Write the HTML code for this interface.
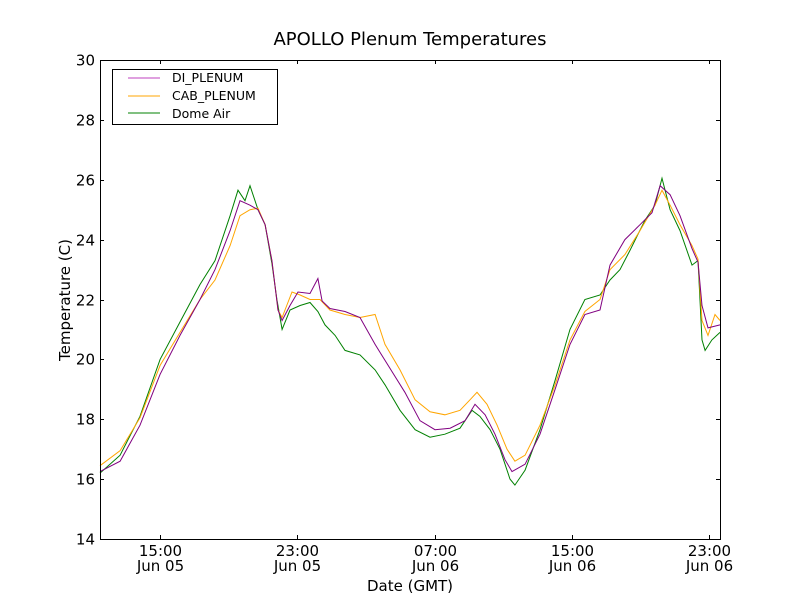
<!DOCTYPE html>
<html><head><meta charset="utf-8">
<style>
body{margin:0;background:#fff;}
svg{display:block;font-family:"DejaVu Sans","Liberation Sans",sans-serif;}
</style></head>
<body>
<svg id="chart" width="800" height="600" viewBox="0 0 800 600">
<rect width="800" height="600" fill="#fff"/>
<text x="410" y="45" text-anchor="middle" font-size="18">APOLLO Plenum Temperatures</text>
<text x="410" y="591" text-anchor="middle" font-size="15">Date (GMT)</text>
<text x="0" y="0" transform="translate(70,300) rotate(-90)" text-anchor="middle" font-size="15">Temperature (C)</text>
<g id="plot"></g>
<g id="axes"></g>
<g>
<rect x="112.5" y="69.5" width="165" height="55" fill="#fff" stroke="#000" stroke-width="1"/>
<line x1="128" y1="78" x2="160" y2="78" stroke="#bf40bf"/>
<text x="172" y="82" font-size="12.5">DI_PLENUM</text>
<line x1="128" y1="96" x2="160" y2="96" stroke="#ffa500"/>
<text x="172" y="100" font-size="12.5">CAB_PLENUM</text>
<line x1="128" y1="113" x2="160" y2="113" stroke="#008000"/>
<text x="172" y="118" font-size="12.5">Dome Air</text>
</g>
</svg>
<script>
const yTicks=[14,16,18,20,22,24,26,28,30];
const xTickHours=[15,23,31,39,47];
const xTickTimes=["15:00","23:00","07:00","15:00","23:00"];
const xTickDates=["Jun 05","Jun 05","Jun 06","Jun 06","Jun 06"];
const diTimes=[11.5,12.67,13.83,15.0,16.16,17.33,18.2,19.08,19.66,20.24,20.71,21.12,21.52,21.87,22.11,22.57,23.04,23.74,24.2,24.44,24.9,25.78,26.65,27.53,28.4,29.27,30.15,31.02,31.9,32.77,33.35,33.94,34.52,35.1,35.51,36.27,37.14,38.02,38.89,39.76,40.64,41.22,42.09,42.97,43.67,44.14,44.72,45.3,46.0,46.35,46.58,46.93,47.63];
const diValues=[16.25,16.6,17.8,19.5,20.8,22,23,24.3,25.3,25.15,25,24.5,23.3,21.65,21.3,21.8,22.25,22.2,22.7,21.95,21.7,21.6,21.4,20.5,19.7,18.9,17.95,17.65,17.7,17.95,18.5,18.15,17.5,16.65,16.25,16.5,17.5,19,20.5,21.5,21.65,23.15,24,24.5,24.9,25.8,25.5,24.8,23.7,23.25,21.8,21.05,21.15];
const cabTimes=[11.5,12.67,13.83,15.0,16.16,17.33,18.2,19.08,19.66,20.24,20.71,21.12,21.52,21.87,22.11,22.69,23.16,23.74,24.32,24.9,25.78,26.65,27.53,28.11,28.98,29.86,30.73,31.6,32.48,33.06,33.47,34.05,34.64,35.22,35.68,36.27,37.14,38.02,38.89,39.76,40.64,41.22,42.09,42.97,43.84,44.25,44.72,45.3,46.0,46.35,46.58,46.93,47.34,47.63];
const cabValues=[16.45,16.95,18.05,19.8,20.9,22,22.65,23.8,24.8,25,25.05,24.5,23.3,21.65,21.4,22.25,22.15,22,22,21.65,21.5,21.4,21.5,20.5,19.65,18.65,18.25,18.15,18.3,18.65,18.9,18.5,17.8,17,16.6,16.8,17.8,19.15,20.65,21.6,22,23,23.5,24.3,25.15,25.65,25.15,24.5,23.8,23.35,21.3,20.8,21.5,21.3];
const domeTimes=[11.5,12.67,13.83,15.0,16.16,17.33,18.2,19.08,19.54,19.95,20.24,20.71,21.12,21.52,21.81,22.11,22.57,23.16,23.74,24.2,24.61,25.2,25.78,26.65,27.53,28.11,28.98,29.86,30.73,31.6,32.48,33.18,33.64,34.23,34.81,35.39,35.68,36.27,37.14,38.02,38.89,39.76,40.64,41.22,41.8,42.39,43.26,43.84,44.25,44.72,45.3,46.0,46.35,46.58,46.76,47.16,47.63];
const domeValues=[16.2,16.8,18.1,20.0,21.25,22.5,23.3,24.8,25.65,25.3,25.8,25.0,24.5,23.2,22,21,21.65,21.8,21.9,21.6,21.15,20.8,20.3,20.15,19.65,19.15,18.3,17.65,17.4,17.5,17.7,18.3,18.1,17.65,17,16,15.8,16.3,17.65,19.3,21,22,22.15,22.65,23,23.65,24.65,25.15,26.05,25,24.3,23.15,23.3,20.65,20.3,20.65,20.9];

const L=100,R=720,T=60,B=539,H0=11.5,H1=47.63,Y0=14,Y1=30;
const xs=h=>L+(h-H0)/(H1-H0)*(R-L);
const ys=v=>B-(v-Y0)/(Y1-Y0)*(B-T);
const NS="http://www.w3.org/2000/svg";
const plot=document.getElementById('plot'),axes=document.getElementById('axes');
function mk(tag,attrs,parent){const e=document.createElementNS(NS,tag);for(const k in attrs)e.setAttribute(k,attrs[k]);parent.appendChild(e);return e;}
function series(times,vals,color,name){
  const d=times.map((t,i)=>(i?'L':'M')+xs(t).toFixed(1)+','+ys(vals[i]).toFixed(1)).join('');
  const p=mk('path',{d:d,fill:'none',stroke:color,'stroke-width':1},plot);
  
  
}
series(domeTimes,domeValues,'#008000','dome-air-line');
series(cabTimes,cabValues,'#ffa500','cab-plenum-line');
series(diTimes,diValues,'#800080','di-plenum-line');

const frame=mk('rect',{x:L+0.5,y:T+0.5,width:R-L,height:B-T,fill:'none',stroke:'#000','stroke-width':1},axes);


yTicks.forEach(v=>{
  const y=Math.round(ys(v))+0.5;
  mk('line',{x1:L,y1:y,x2:L+4,y2:y,stroke:'#000'},axes);
  mk('line',{x1:R-4,y1:y,x2:R,y2:y,stroke:'#000'},axes);
  const t=mk('text',{x:L-5,y:y+5,'text-anchor':'end','font-size':15},axes);
  t.textContent=v;
  
  
});
xTickHours.forEach((h,i)=>{
  const x=Math.round(xs(h))+0.5;
  mk('line',{x1:x,y1:B,x2:x,y2:B-4,stroke:'#000'},axes);
  mk('line',{x1:x,y1:T,x2:x,y2:T+4,stroke:'#000'},axes);
  const t=mk('text',{x:x,y:B+17,'text-anchor':'middle','font-size':15},axes);
  t.textContent=xTickTimes[i];
  
  
  const t2=mk('text',{x:x,y:B+32,'text-anchor':'middle','font-size':15},axes);
  t2.textContent=xTickDates[i];
  
  
});
</script>
</body></html>
